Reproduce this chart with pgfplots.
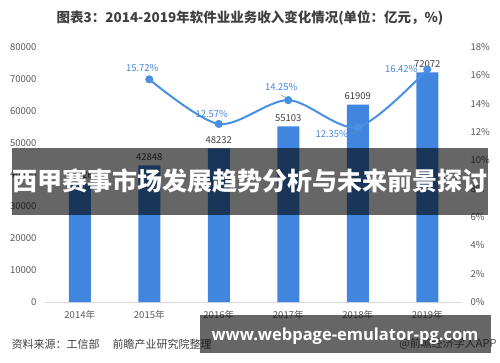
\documentclass[border=0pt]{standalone}
\usepackage{fontspec}
\setmainfont{Noto Sans CJK SC}
\newfontfamily\urlfont{Open Sans}
\usepackage{pgfplots}
\pgfplotsset{compat=1.18}
\definecolor{barblue}{RGB}{64,134,222}
\definecolor{lineblue}{RGB}{74,144,226}
\definecolor{pctblue}{RGB}{70,135,220}
\definecolor{txtgray}{RGB}{89,89,89}
\definecolor{darktxt}{RGB}{64,64,64}
\begin{document}
\begin{tikzpicture}[x=1pt,y=1pt]
\path[use as bounding box, fill=white] (0,0) rectangle (500,362);
\node[font=\fontsize{13.5}{16}\selectfont\bfseries, text=darktxt] at (250,344) {图表3：2014-2019年软件业业务收入变化情况(单位：亿元，\%)};
\begin{axis}[
  at={(45pt,60pt)}, anchor=south west, scale only axis,
  width=417pt, height=255pt,
  xmin=-0.5, xmax=5.5, ymin=0, ymax=80000,
  xtick={0,1,2,3,4,5},
  xticklabels={2014年,2015年,2016年,2017年,2018年,2019年},
  ytick={0,10000,20000,30000,40000,50000,60000,70000,80000},
  scaled y ticks=false,
  /pgf/number format/1000 sep={},
  /pgf/number format/assume math mode=true,
  axis x line*=bottom, axis y line*=left,
  y axis line style={draw=none},
  x axis line style={draw=black!15, line width=0.8pt},
  major tick length=0pt,
  tick label style={font=\fontsize{9.5}{11}\selectfont, text=txtgray},
  yticklabel style={xshift=-5pt},
  xticklabel style={yshift=-5pt},
]
\addplot[ybar, bar width=22pt, fill=barblue, draw=none,
  nodes near coords,
  nodes near coords style={font=\fontsize{9.5}{11}\selectfont, text=darktxt, yshift=1.5pt}]
  coordinates {(0,37026) (1,42848) (2,48232) (3,55103) (4,61909) (5,72072)};
\end{axis}
\begin{axis}[
  at={(45pt,60pt)}, anchor=south west, scale only axis,
  width=417pt, height=255pt,
  xmin=-0.5, xmax=5.5, ymin=0, ymax=18,
  ytick={0,2,4,6,8,10,12,14,16,18},
  yticklabel={\pgfmathprintnumber{\tick}\%},
  /pgf/number format/assume math mode=true,
  axis y line*=right, axis x line=none,
  y axis line style={draw=none},
  major tick length=0pt,
  tick label style={font=\fontsize{9.5}{11}\selectfont, text=txtgray},
  yticklabel style={xshift=5pt},
]
\addplot[smooth, line width=2pt, color=lineblue, mark=*, mark size=3pt,
  mark options={fill=lineblue, draw=lineblue}]
  coordinates {(1,15.72) (2,12.57) (3,14.25) (4,12.35) (5,16.42)};
\begin{scope}[every node/.style={font=\fontsize{9.5}{11}\selectfont, text=pctblue}]
\node at ([xshift=-7pt,yshift=11pt]axis cs:1,15.72) {15.72\%};
\node at ([xshift=-7pt,yshift=10pt]axis cs:2,12.57) {12.57\%};
\node at ([xshift=-7pt,yshift=13pt]axis cs:3,14.25) {14.25\%};
\node at ([xshift=-26pt,yshift=-7pt]axis cs:4,12.35) {12.35\%};
\node at ([xshift=-26pt,yshift=0pt]axis cs:5,16.42) {16.42\%};
\end{scope}
\draw[black!45, line width=0.5pt] ([xshift=-8pt,yshift=-6pt]axis cs:4,12.35) -- ([xshift=-3pt,yshift=-6pt]axis cs:4,12.35) -- ([xshift=-0.5pt,yshift=-2pt]axis cs:4,12.35);
\draw[black!45, line width=0.5pt] ([xshift=-7pt,yshift=5pt]axis cs:3,14.25) -- ([xshift=-2pt,yshift=2pt]axis cs:3,14.25);
\end{axis}
\node[anchor=west, font=\fontsize{11}{13}\selectfont, text=darktxt] at (8,18) {资料来源：工信部\hspace{1.2em}前瞻产业研究院整理};
\node[anchor=east, font=\fontsize{11}{13}\selectfont, text=txtgray] at (500,18) {@前瞻经济学人APP};
\fill[black, opacity=0.6] (12,147) rectangle (488,214);
\node[font=\fontsize{25}{28}\selectfont\bfseries, text=white] at (250,181) {西甲赛事市场发展趋势分析与未来前景探讨};
\fill[black, opacity=0.6] (200,9) rectangle (491,47);
\node[font=\urlfont\fontsize{16.5}{19}\selectfont\bfseries, text=white] at (345,26) {www.webpage-emulator-pg.com};
\end{tikzpicture}
\end{document}
